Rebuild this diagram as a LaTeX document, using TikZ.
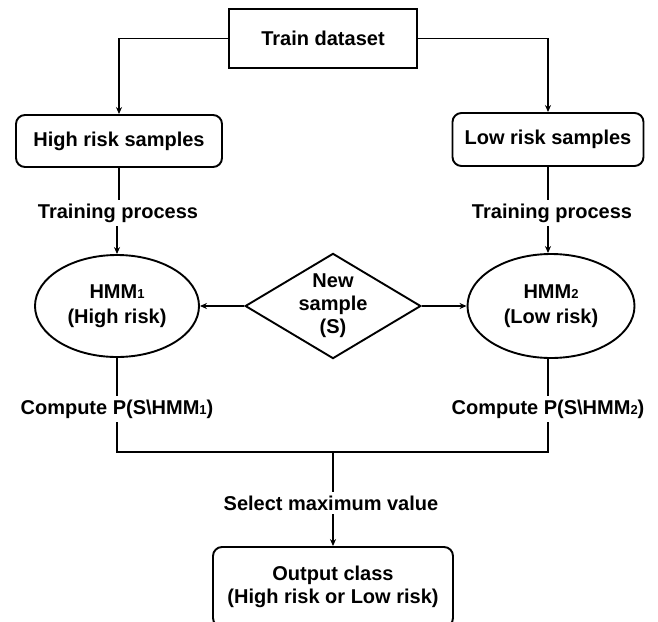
\documentclass[tikz,border=0pt]{standalone}
\usepackage{fontspec}
\setmainfont{Liberation Sans}
\usetikzlibrary{shapes.geometric,arrows.meta}
\newcommand{\sm}[1]{{\fontsize{13}{13}\selectfont #1}}
\begin{document}
\begin{tikzpicture}[x=1pt,y=-1pt,
  line width=1.9pt,
  >={Stealth[length=7pt,width=6pt]},
  txt/.style={font=\fontsize{20}{23}\selectfont\bfseries, align=center, inner sep=3pt},
  sqbox/.style={txt, draw, rectangle},
  rbox/.style={txt, draw, rectangle, rounded corners=9pt},
  ell/.style={txt, draw, ellipse, inner sep=0pt, font=\fontsize{20}{25}\selectfont\bfseries},
  dia/.style={txt, draw, diamond, inner sep=0pt, shape aspect=1.67}]
\useasboundingbox (0,0) rectangle (658,621);
\clip (0,0) rectangle (658,621);

\node[sqbox, minimum width=188pt, minimum height=59pt] (train) at (323,38.5) {Train dataset};
\node[rbox, minimum width=206pt, minimum height=52pt] (high) at (119,141) {High risk samples};
\node[rbox, minimum width=191pt, minimum height=53pt] (low) at (548,139.5) {Low risk samples};

\node[txt] (tp1) at (118,213) {Training process};
\node[txt] (tp2) at (552,213) {Training process};

\node[ell, minimum width=164pt, minimum height=102pt] (hmm1) at (117,306) {HMM\sm{1}\\(High risk)};
\node[ell, minimum width=167pt, minimum height=104pt] (hmm2) at (551,306) {HMM\sm{2}\\(Low risk)};
\node[dia, minimum width=167pt, minimum height=100pt] (ns) at (333,306) {New\\sample\\(S)};

\node[txt] (c1) at (117,409) {Compute P(S\textbackslash HMM\sm{1})};
\node[txt] (c2) at (548,409) {Compute P(S\textbackslash HMM\sm{2})};

\coordinate (j) at (333,452);
\node[txt] (sel) at (331,503) {Select maximum value};
\node[rbox, minimum width=240pt, minimum height=80pt] (out) at (333,587) {Output class\\(High risk or Low risk)};

\draw[->] (train.west) -| (high.north);
\draw[->] (train.east) -| (low.north);
\draw (high.south) -- (high.south |- tp1.north);
\draw (low.south) -- (low.south |- tp2.north);
\draw[->] (hmm1.north |- tp1.south) -- (hmm1.north);
\draw[->] (low.south |- tp2.south) -- (low.south |- hmm2.north);
\draw[->] (ns.west) -- (hmm1.east);
\draw[->] (ns.east) -- (hmm2.west);
\draw (hmm1.south) -- (hmm1.south |- c1.north);
\draw (low.south |- hmm2.south) -- (low.south |- c2.north);
\draw (hmm1.south |- c1.south) |- (j) -| (low.south |- c2.south);
\draw (j) -- (j |- sel.north);
\draw[->] (j |- sel.south) -- (out.north);
\end{tikzpicture}
\end{document}
